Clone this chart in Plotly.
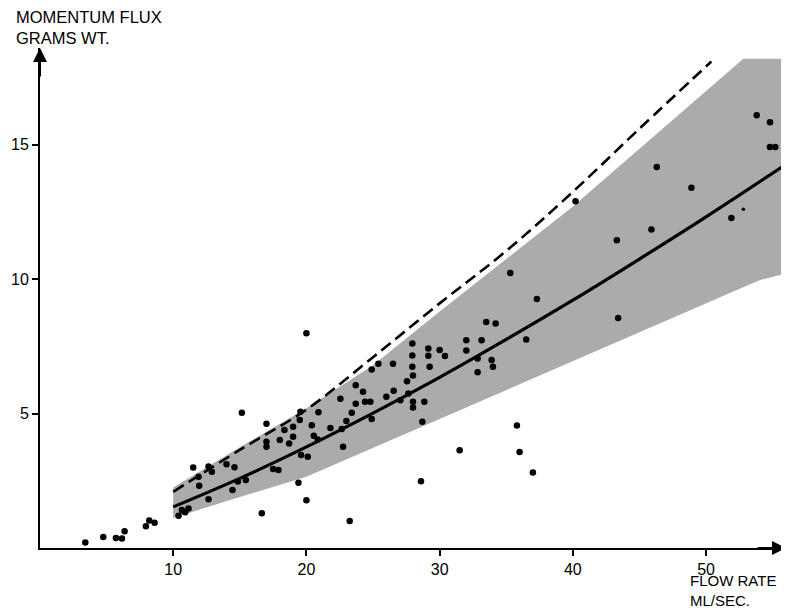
import plotly.graph_objects as go

# Measured points (flow rate ml/sec, momentum flux grams wt.)
pts_x = [3.4, 4.75, 5.7, 6.15, 6.35, 7.95, 8.2, 8.6, 10.4, 10.65, 10.9, 11.15,
         11.5, 11.95, 11.9, 12.65, 12.9, 12.65, 14.0, 14.6, 14.45, 14.85, 15.45,
         15.15, 16.65, 17.0, 17.0, 17.0, 17.5, 17.9, 18.0, 18.35, 18.7, 19.0, 19.0,
         19.5, 19.55, 19.6, 20.1, 19.4, 20.0, 20.0, 20.4, 20.55, 20.85, 20.9, 21.8,
         22.65, 22.75, 23.0, 23.4, 22.55, 23.25, 23.7, 23.7, 24.25, 24.4, 24.8, 24.9,
         24.9, 25.4, 26.0, 26.5, 26.55, 27.05, 27.55, 27.65, 27.95, 27.95, 27.95,
         28.0, 28.0, 28.0, 28.6, 28.7, 28.85, 29.15, 29.15, 29.25, 30.0, 30.4, 31.5,
         32.0, 32.0, 32.85, 32.85, 33.15, 33.5, 33.9, 34.0, 34.2, 35.3, 35.8, 36.0,
         36.5, 37.0, 37.3, 40.2, 43.3, 43.4, 45.9, 46.3, 48.9, 51.9, 53.8, 54.8,
         54.8, 55.2]
pts_y = [0.20, 0.41, 0.37, 0.35, 0.62, 0.81, 1.02, 0.94, 1.20, 1.41, 1.33, 1.47,
         2.99, 2.32, 2.65, 3.03, 2.84, 1.81, 3.12, 3.00, 2.16, 2.47, 2.53,
         5.03, 1.29, 4.62, 3.95, 3.77, 2.94, 2.90, 4.02, 4.39, 3.89, 4.51, 4.14,
         4.76, 5.07, 3.46, 3.39, 2.43, 1.78, 7.99, 4.57, 4.18, 4.04, 5.05, 4.46,
         4.43, 3.77, 4.72, 5.03, 5.55, 1.00, 5.37, 6.05, 5.81, 5.44, 5.44, 6.64,
         4.80, 6.85, 5.63, 6.85, 5.85, 5.50, 6.20, 5.75, 7.61, 7.16, 6.74,
         6.42, 5.44, 5.23, 2.48, 4.70, 5.44, 7.42, 7.15, 6.74, 7.37, 7.14, 3.64,
         7.73, 7.35, 7.05, 6.54, 7.73, 8.41, 6.99, 6.74, 8.35, 10.23, 4.56, 3.57,
         7.76, 2.81, 9.26, 12.90, 11.45, 8.56, 11.85, 14.17, 13.40, 12.28, 16.10, 15.84,
         14.92, 14.92]

small_x = [52.8]
small_y = [12.6]

# Solid (fitted) curve
solid_x = [10, 15, 20, 25, 30, 35, 40, 45, 50, 55.9]
solid_y = [1.53, 2.59, 3.76, 5.02, 6.35, 7.76, 9.22, 10.75, 12.32, 14.24]

# Dashed curve
dash_x = [10, 15, 20, 25, 30, 35, 40, 45, 50.4]
dash_y = [2.09, 3.65, 5.15, 7.1, 9.1, 11.05, 13.25, 15.6, 18.1]

# Shaded band
band_up_x = [10, 15, 20, 25, 30, 35, 40, 45, 50, 52.8, 55.9]
band_up_y = [2.25, 3.75, 5.2, 6.8, 8.8, 10.75, 12.7, 14.85, 17.0, 18.2, 18.2]
band_lo_x = [10, 15, 20, 25.6, 30, 35, 40.6, 45, 50, 54, 55.9]
band_lo_y = [1.12, 1.9, 2.65, 3.85, 4.8, 5.9, 7.1, 8.05, 9.1, 9.96, 10.2]

x_ticks = [10, 20, 30, 40, 50]
y_ticks = [5, 10, 15]

FONT = "Liberation Sans, Arial, sans-serif"

fig = go.Figure()

poly_x = band_up_x + band_lo_x[::-1] + [band_up_x[0]]
poly_y = band_up_y + band_lo_y[::-1] + [band_up_y[0]]
fig.add_trace(go.Scatter(
    x=poly_x, y=poly_y, mode="lines", fill="toself",
    line=dict(width=0, color="rgba(0,0,0,0)"),
    fillcolor="#b0b0b0",
    fillpattern=dict(shape=".", fgcolor="#000000", bgcolor="#d6d6d6",
                     size=2, solidity=0.42),
    hoverinfo="skip", showlegend=False))

fig.add_trace(go.Scatter(
    x=dash_x, y=dash_y, mode="lines", line_shape="spline",
    line=dict(color="black", width=2.6, dash="12px,6px"),
    showlegend=False))

fig.add_trace(go.Scatter(
    x=solid_x, y=solid_y, mode="lines", line_shape="spline",
    line=dict(color="black", width=3.2),
    showlegend=False))

fig.add_trace(go.Scatter(
    x=pts_x, y=pts_y, mode="markers",
    marker=dict(color="black", size=6.5, line=dict(width=0)),
    showlegend=False, cliponaxis=False))

fig.add_trace(go.Scatter(
    x=small_x, y=small_y, mode="markers",
    marker=dict(color="black", size=3.5, line=dict(width=0)),
    showlegend=False))

# page body has an 8px margin: figure is 781x602 so plot area lands where the reference has it
fig.update_layout(
    width=781, height=602,
    margin=dict(l=29, r=3, t=40, b=62),
    paper_bgcolor="white", plot_bgcolor="white",
    font=dict(family=FONT, color="black", size=16),
    showlegend=False,
    xaxis=dict(range=[0, 56], showgrid=False, zeroline=False,
               showline=True, linecolor="black", linewidth=2,
               tickvals=x_ticks, ticks="outside", ticklen=6, tickwidth=1.6,
               tickcolor="black", tickfont=dict(size=16, family=FONT)),
    yaxis=dict(range=[0, 18.6], showgrid=False, zeroline=False,
               showline=True, linecolor="black", linewidth=2,
               tickvals=y_ticks, ticks="outside", ticklen=6, tickwidth=1.6,
               tickcolor="black", tickfont=dict(size=16, family=FONT)),
)

# axis arrowheads
fig.add_annotation(x=1.0, y=0, xref="paper", yref="paper", ax=-30, ay=0, text="",
                   showarrow=True, arrowhead=2, arrowsize=1.4, arrowwidth=2,
                   arrowcolor="black")
fig.add_annotation(x=0, y=1.0, xref="paper", yref="paper", ax=0, ay=30, text="",
                   showarrow=True, arrowhead=2, arrowsize=1.4, arrowwidth=2,
                   arrowcolor="black")

# axis titles (two-line blocks)
fig.add_annotation(x=-0.035, y=1.041, xref="paper", yref="paper",
                   text="MOMENTUM FLUX<br>GRAMS WT.", align="left",
                   showarrow=False, xanchor="left", yanchor="middle",
                   font=dict(size=16.5, family=FONT))
fig.add_annotation(x=0.868, y=-0.084, xref="paper", yref="paper",
                   text="FLOW RATE<br>ML/SEC.", align="left",
                   showarrow=False, xanchor="left", yanchor="middle",
                   font=dict(size=15, family=FONT))

fig.write_html("out.html")
